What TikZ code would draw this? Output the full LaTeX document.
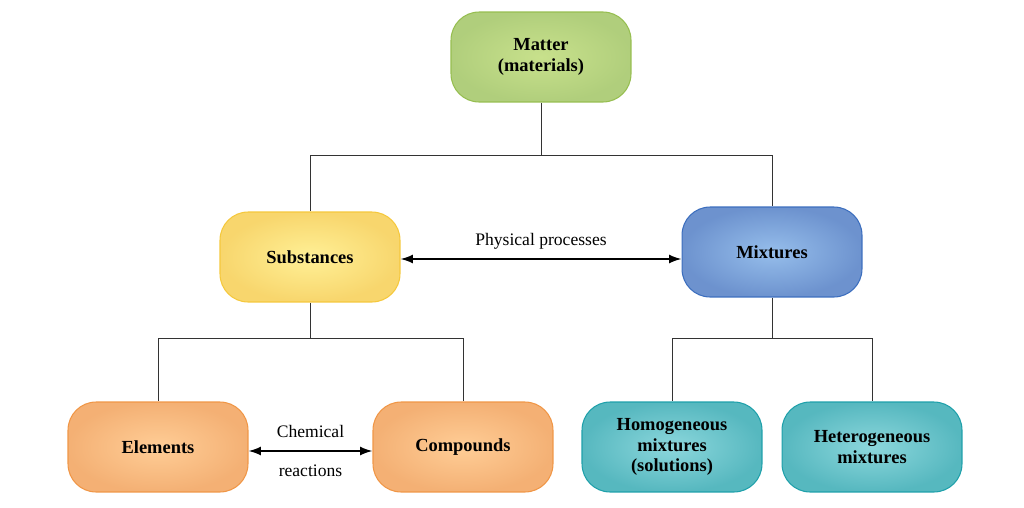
\documentclass[tikz,border=0pt]{standalone}
\usepackage{fontspec}
\setmainfont{Liberation Serif}
\usetikzlibrary{arrows.meta}
\definecolor{greenB}{RGB}{150,190,80}
\definecolor{greenF}{RGB}{200,225,140}
\definecolor{yellowB}{RGB}{245,200,60}
\definecolor{yellowF}{RGB}{255,240,150}
\definecolor{blueB}{RGB}{60,110,190}
\definecolor{blueF}{RGB}{150,190,235}
\definecolor{orangeB}{RGB}{240,150,70}
\definecolor{orangeF}{RGB}{255,205,150}
\definecolor{tealB}{RGB}{30,160,170}
\definecolor{tealF}{RGB}{140,215,220}
\tikzset{
  box/.style={rounded corners=16pt, minimum width=3.6cm, minimum height=1.8cm,
    align=center, font=\fontsize{10.5}{11.5}\selectfont\bfseries, line width=0.6pt},
  boxc/.style={box, draw=#1B, inner color=#1F, outer color=#1B!75},
  link/.style={draw=black!80, line width=0.5pt},
  both/.style={{Latex[length=7pt,width=5pt]}-{Latex[length=7pt,width=5pt]}, line width=0.9pt},
  lbl/.style={font=\fontsize{10}{11}\selectfont}
}
\begin{document}
\begin{tikzpicture}[x=0.02cm, y=-0.02cm]
    \useasboundingbox (0,0) rectangle (1024,507);

    \node [boxc=green] (matter) at (541,57) {Matter\\(materials)};
    \node [boxc=yellow] (subst) at (310,257) {Substances};
    \node [boxc=blue] (mix) at (772,252) {Mixtures};
    \node [boxc=orange] (elem) at (158,447) {Elements};
    \node [boxc=orange] (comp) at (463,447) {Compounds};
    \node [boxc=teal] (homo) at (672,447) {Homogeneous\\mixtures\\(solutions)};
    \node [boxc=teal] (hetero) at (872,447) {Heterogeneous\\mixtures};

    \draw [link] (matter.south) |- (541,155) -| (subst.north);
    \draw [link] (541,155) -| (mix.north);
    \draw [link] (subst.south) |- (310,338) -| (elem.north);
    \draw [link] (310,338) -| (comp.north);
    \draw [link] (mix.south) |- (772,338) -| (homo.north);
    \draw [link] (772,338) -| (hetero.north);

    \draw [both] (subst.east |- 0,259) -- node [lbl, above=2pt] {Physical processes} (mix.west |- 0,259);
    \draw [both] (elem.east |- 0,451) -- node [lbl, above=4pt] {Chemical} node [lbl, below=4pt] {reactions} (comp.west |- 0,451);

\end{tikzpicture}
\end{document}
